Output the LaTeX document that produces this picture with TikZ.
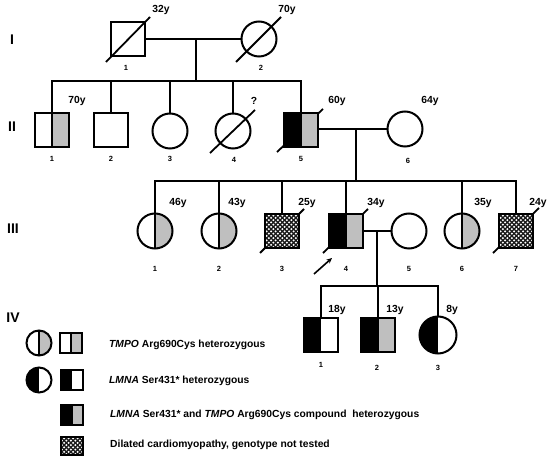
\documentclass[tikz,border=0pt]{standalone}
\usepackage{fontspec}
\setmainfont{Liberation Sans}
\usetikzlibrary{patterns.meta,backgrounds,arrows.meta}
\tikzdeclarepattern{
  name=wdots,
  type=uncolored,
  bottom left={(-.1pt,-.1pt)},
  top right={(4.6pt,4.6pt)},
  tile size={(4.5pt,4.5pt)},
  code={\fill (1.1pt,1.1pt) circle (1.1pt); \fill (3.35pt,3.35pt) circle (1.1pt);}
}
\tikzset{
  ind/.style={draw, line width=2pt, inner sep=0pt, outer sep=0pt},
  male/.style={ind, rectangle, minimum size=34pt},
  female/.style={ind, circle, minimum size=35pt},
  lmale/.style={ind, rectangle, minimum width=22pt, minimum height=20pt},
  lfemale/.style={ind, circle, minimum size=25pt},
  greyR/.style={path picture={
    \fill[gray!50] (path picture bounding box.south) rectangle (path picture bounding box.north east);
    \draw[line width=2pt] (path picture bounding box.south) -- (path picture bounding box.north);}},
  blackL/.style={path picture={
    \fill[black] (path picture bounding box.south west) rectangle (path picture bounding box.north);}},
  blackLgreyR/.style={path picture={
    \fill[black] (path picture bounding box.south west) rectangle (path picture bounding box.north);
    \fill[gray!50] (path picture bounding box.south) rectangle (path picture bounding box.north east);
    \draw[line width=2pt] (path picture bounding box.south) -- (path picture bounding box.north);}},
  dcm/.style={path picture={
    \fill[black!90] (path picture bounding box.south west) rectangle (path picture bounding box.north east);
    \fill[pattern=wdots, pattern color=white] (path picture bounding box.south west) rectangle (path picture bounding box.north east);}},
  line/.style={line width=2pt},
  slash/.style={line width=1.8pt},
  age/.style={font=\bfseries\fontsize{10.3}{12}\selectfont, inner sep=0pt},
  num/.style={font=\bfseries\fontsize{7.5}{9}\selectfont, inner sep=0pt},
  gen/.style={font=\bfseries\fontsize{14}{16}\selectfont, inner sep=0pt},
  legtext/.style={font=\bfseries\fontsize{10.3}{12}\selectfont, inner sep=0pt, anchor=west},
}
\begin{document}
\begin{tikzpicture}[x=1pt,y=-1pt]
\useasboundingbox (0,0) rectangle (550,462);
% generation labels
\node[gen] (gI) at (12,40) {I};
\node[gen] (gII) at (12,127) {II};
\node[gen] (gIII) at (13,229) {III};
\node[gen] (gIV) at (13,318) {IV};

% Generation I
\node[male] (I1) at (128,39) {};
\node[female] (I2) at (259,39) {};
% Generation II
\node[male, greyR] (II1) at (52,130) {};
\node[male] (II2) at (111,130) {};
\node[female] (II3) at (170,131) {};
\node[female] (II4) at (233,131) {};
\node[male, blackLgreyR] (II5) at (301,130) {};
\node[female] (II6) at (405,129) {};
% Generation III
\node[female, greyR] (III1) at (155,231) {};
\node[female, greyR] (III2) at (219,231) {};
\node[male, dcm] (III3) at (282,231) {};
\node[male, blackLgreyR] (III4) at (346,231) {};
\node[female] (III5) at (409,231) {};
\node[female, greyR] (III6) at (462,231) {};
\node[male, dcm] (III7) at (516,231) {};
% Generation IV
\node[male, blackL] (IV1) at (321,335) {};
\node[male, blackLgreyR] (IV2) at (378,335) {};
\node[female, blackL, minimum size=37pt] (IV3) at (438,335) {};

% deceased slashes
\draw[slash] (106,62) -- (150,17);
\draw[slash] (236,62) -- (281,17);
\draw[slash] (210,153) -- (255,110);
\begin{scope}[on background layer]
\draw[slash] (277,152) -- (323,109);
\draw[slash] (260,253) -- (304,209);
\draw[slash] (323,253) -- (368,209);
\draw[slash] (493,253) -- (539,208);
\end{scope}

% connectors generation I -> II
\coordinate (m1) at (196,39);
\coordinate (s1) at (196,81);
\draw[line] (I1.east) -- (I2.west);
\draw[line] (m1) -- (s1);
\draw[line] (II1.north) |- (s1) -| (II5.north);
\draw[line] (II2.north) -- (II2.north |- s1);
\draw[line] (II3.north) -- (II3.north |- s1);
\draw[line] (II4.north) -- (II4.north |- s1);
% II -> III
\coordinate (m2) at (356,129);
\coordinate (s2) at (356,181);
\draw[line] (II5.east |- m2) -- (II6.west);
\draw[line] (m2) -- (s2);
\draw[line] (III1.north) |- (s2) -| (III7.north);
\draw[line] (III2.north) -- (III2.north |- s2);
\draw[line] (III3.north) -- (III3.north |- s2);
\draw[line] (III4.north) -- (III4.north |- s2);
\draw[line] (III6.north) -- (III6.north |- s2);
% III -> IV
\coordinate (m3) at (377,231);
\coordinate (s3) at (377,286);
\draw[line] (III4.east |- m3) -- (III5.west);
\draw[line] (m3) -- (s3);
\draw[line] (IV1.north) |- (s3) -| (IV3.north);
\draw[line] (IV2.north) -- (IV2.north |- s3);

% proband arrow
\coordinate (prT) at (314,274);
\coordinate (prH) at (332,258);
\draw[line width=1.6pt, -{Stealth[length=5.5pt,width=5pt]}] (prT) -- (prH);

% ages
\node[age] (aI1) at (161,10) {32y};
\node[age] (aI2) at (287,10) {70y};
\node[age] (aII1) at (77,101) {70y};
\node[age] (aII4) at (254,101) {?};
\node[age] (aII5) at (337,101) {60y};
\node[age] (aII6) at (430,101) {64y};
\node[age] (aIII1) at (178,203) {46y};
\node[age] (aIII2) at (237,203) {43y};
\node[age] (aIII3) at (307,203) {25y};
\node[age] (aIII4) at (376,203) {34y};
\node[age] (aIII6) at (483,203) {35y};
\node[age] (aIII7) at (538,203) {24y};
\node[age] (aIV1) at (337,310) {18y};
\node[age] (aIV2) at (395,310) {13y};
\node[age] (aIV3) at (452,310) {8y};

% numbers
\node[num] (nI1) at (126,68) {1};
\node[num] (nI2) at (261,68) {2};
\node[num] (nII1) at (52,159) {1};
\node[num] (nII2) at (111,159) {2};
\node[num] (nII3) at (170,159) {3};
\node[num] (nII4) at (234,160) {4};
\node[num] (nII5) at (301,159) {5};
\node[num] (nII6) at (408,161) {6};
\node[num] (nIII1) at (155,269) {1};
\node[num] (nIII2) at (219,269) {2};
\node[num] (nIII3) at (282,269) {3};
\node[num] (nIII4) at (346,269) {4};
\node[num] (nIII5) at (409,269) {5};
\node[num] (nIII6) at (462,269) {6};
\node[num] (nIII7) at (516,269) {7};
\node[num] (nIV1) at (321,365) {1};
\node[num] (nIV2) at (377,368) {2};
\node[num] (nIV3) at (438,368) {3};

% legend
\node[lfemale, greyR] (L1c) at (39,343) {};
\node[lmale, greyR] (L1s) at (71,343) {};
\node[legtext] (L1t) at (109,345) {\textit{TMPO} Arg690Cys heterozygous};
\node[lfemale, blackL] (L2c) at (39,380) {};
\node[lmale, blackL] (L2s) at (72,380) {};
\node[legtext] (L2t) at (109,381) {\textit{LMNA} Ser431* heterozygous};
\node[lmale, blackLgreyR] (L3s) at (72,415) {};
\node[legtext] (L3t) at (110,415) {\textit{LMNA} Ser431* and \textit{TMPO} Arg690Cys compound\ \ heterozygous};
\node[lmale, dcm, minimum height=18pt] (L4s) at (72,446) {};
\node[legtext] (L4t) at (110,445) {Dilated cardiomyopathy, genotype not tested};
\end{tikzpicture}
\end{document}
